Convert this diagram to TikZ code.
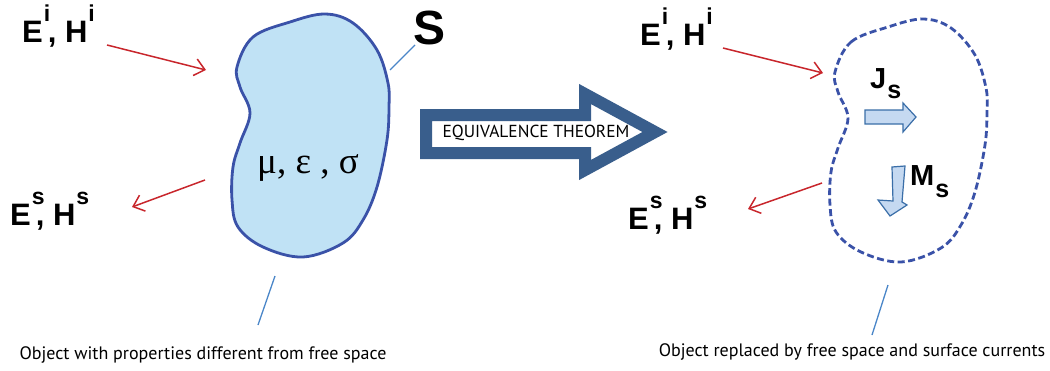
\documentclass[tikz,border=0pt]{standalone}
\usepackage{fontspec}
\setmainfont{Liberation Sans}
\newfontfamily\capfont{PT Sans}
\newfontfamily\greekfont{Liberation Serif}
\usetikzlibrary{arrows.meta}
\definecolor{blobfill}{RGB}{192,226,245}
\definecolor{blobline}{RGB}{58,82,168}
\definecolor{redarr}{RGB}{200,38,44}
\definecolor{leader}{RGB}{74,134,200}
\definecolor{bigarrow}{RGB}{57,94,140}
\definecolor{curfill}{RGB}{197,217,241}
\definecolor{curline}{RGB}{58,110,168}
\newcommand{\fld}[2]{{\fontsize{31}{31}\selectfont\bfseries E\rlap{\kern1pt\raisebox{21pt}{\fontsize{23}{23}\selectfont #1}}\kern5pt, H\kern1pt\raisebox{21pt}{\fontsize{23}{23}\selectfont #2}}}
\tikzset{
  redarrow/.style={draw=redarr,line width=1.5pt,-{Straight Barb[length=10pt,width=17pt,line width=1.5pt]}},
  leaderline/.style={draw=leader,line width=1.3pt},
  caption/.style={font=\capfont\fontsize{18}{18}\selectfont,inner sep=0pt},
  curarrow/.style={fill=curfill,draw=curline,line width=1.2pt,line join=miter},
  bloblabel/.style={inner sep=0pt,anchor=base west}
}
\begin{document}
\begin{tikzpicture}[x=1pt,y=-1pt]
\useasboundingbox (0,0) rectangle (1050,370);
% blobs
\def\blobpath{plot[smooth cycle,tension=0.6] coordinates {(237,67) (253,37) (290,22) (325,14) (353,23) (377,50) (388,83) (389,107) (387,140) (377,187) (363,220) (343,243) (303,257) (263,247) (238,227) (232,200) (233,167) (240,143) (250,113) (240,87)}}
\path[fill=blobfill,draw=blobline,line width=2.8pt] \blobpath;
\path[draw=blobline,line width=2.8pt,dash pattern=on 7pt off 3.5pt,shift={(598,5)}] \blobpath;

% labels left
\node[bloblabel] (ei) at (22,42) {\fld{i}{i}};
\node[bloblabel] (es) at (10,225) {\fld{s}{s}};
\node[bloblabel,font=\fontsize{48}{48}\selectfont\bfseries] (S) at (413,44) {S};
\node[font=\greekfont\fontsize{37}{37}\selectfont,inner sep=0pt] (mu) at (308,168) {μ, ε , σ};

\coordinate (a1s) at (107,45); \coordinate (a1e) at (206,70);
\coordinate (a2s) at (205,180); \coordinate (a2e) at (132,207);
\draw[redarrow] (a1s) -- (a1e);
\draw[redarrow] (a2s) -- (a2e);
\coordinate (s1) at (415,45); \coordinate (s2) at (390,70);
\draw[leaderline] (s1) -- (s2);
\coordinate (l1) at (275,276); \coordinate (l2) at (258,325);
\draw[leaderline] (l1) -- (l2);
\node[caption] (cap1) at (203,355) {Object with properties different from free space};

% big arrow
\draw[draw=bigarrow,fill=white,line width=12pt,line join=miter,miter limit=10]
  (426,115) -- (585,115) -- (585,94) -- (655,132) -- (585,170) -- (585,153) -- (426,153) -- cycle;
\node[font=\capfont\fontsize{17.4}{17.4}\selectfont,inner sep=0pt] (eq) at (536,133) {EQUIVALENCE THEOREM};

% right side labels
\node[bloblabel] (ei2) at (640,45) {\fld{i}{i}};
\node[bloblabel] (es2) at (628,229) {\fld{s}{s}};
\coordinate (b1s) at (723,48); \coordinate (b1e) at (823,73);
\coordinate (b2s) at (822,183); \coordinate (b2e) at (748,209);
\draw[redarrow] (b1s) -- (b1e);
\draw[redarrow] (b2s) -- (b2e);
\coordinate (r1) at (888,285); \coordinate (r2) at (872,335);
\draw[leaderline] (r1) -- (r2);
\node[caption] (cap2) at (852,352) {Object replaced by free space and surface currents};

% currents
\node[bloblabel,font=\fontsize{29}{29}\selectfont\bfseries] (js) at (870,88) {J\kern1pt\raisebox{-10pt}{\fontsize{25}{25}\selectfont s}};
\node[bloblabel,font=\fontsize{29}{29}\selectfont\bfseries] (ms) at (910,185) {M\kern1pt\raisebox{-12pt}{\fontsize{25}{25}\selectfont s}};
\draw[curarrow] (865,110) -- (903,110) -- (903,103) -- (916,117) -- (903,132) -- (903,124) -- (865,124) -- cycle;
\draw[curarrow] (892,167) -- (905,166) -- (902,202) -- (907,205) -- (890,216) -- (878,200) -- (893,201) -- cycle;
\end{tikzpicture}
\end{document}
